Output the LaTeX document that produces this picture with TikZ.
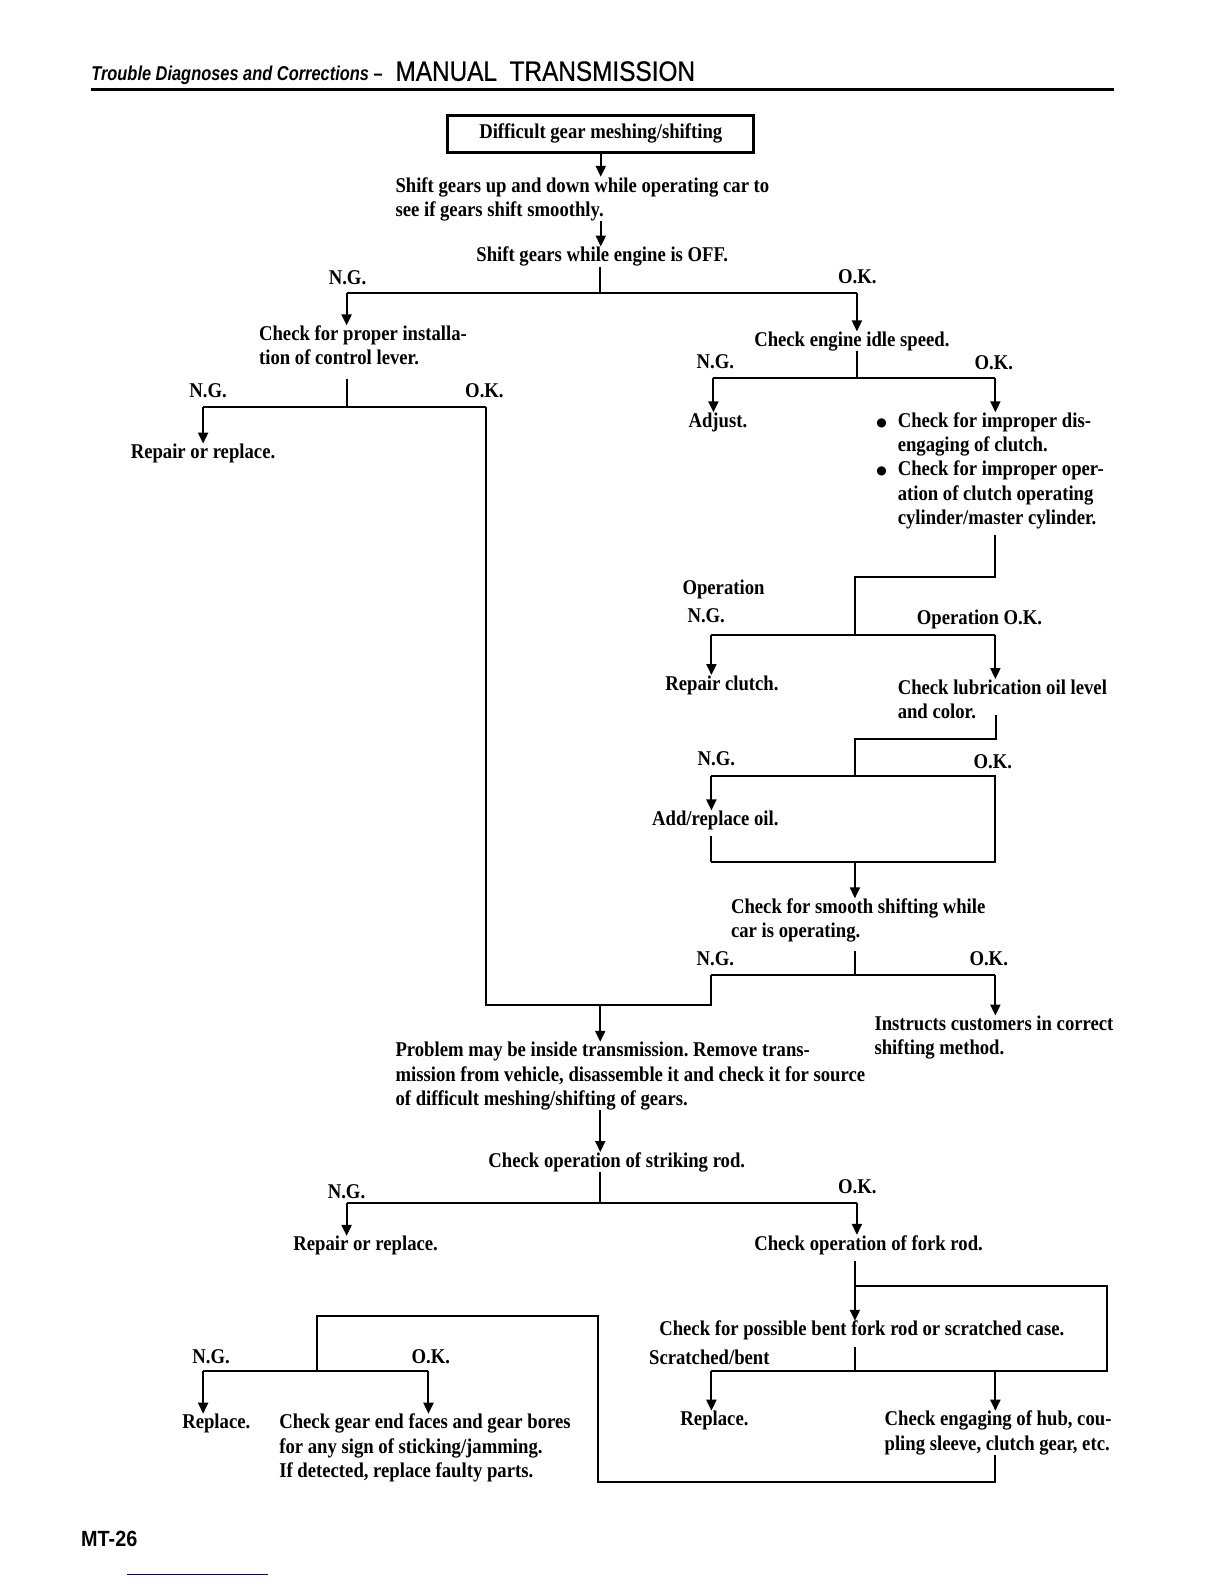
\documentclass[tikz,border=0pt]{standalone}
\usepackage{fontspec}
\setmainfont{Liberation Serif}[FakeStretch=0.89]
\newfontfamily\hdrfont{Liberation Sans}[FakeStretch=0.82]
\newfontfamily\ttlfont{Liberation Sans}[FakeStretch=0.87,FakeBold=0.6]
\newfontfamily\pgfont{Liberation Sans}[FakeStretch=0.9]
\newfontfamily\symfont{DejaVu Sans}
\usetikzlibrary{arrows.meta,positioning,calc}
\frenchspacing

\newcommand{\blt}{\llap{\raisebox{0.6pt}{\symfont\fontsize{6}{6}\selectfont ●}\hspace{5.5pt}}}

\begin{document}
\begin{tikzpicture}[x=0.5053pt,y=-0.5053pt,
  txt/.style={anchor=north west,align=left,inner sep=0pt,font=\fontsize{10.5}{12.1}\selectfont\bfseries},
  lbl/.style={anchor=west,inner sep=0pt,font=\fontsize{10.5}{12.1}\selectfont\bfseries},
  ln/.style={line width=1pt},
  arr/.style={line width=1pt,-{Triangle[width=5pt,length=5.5pt]}}]
  \useasboundingbox (0,0) rectangle (1211.2,1567.5);

  % header
  \node [anchor=base west,inner sep=0pt,font=\hdrfont\fontsize{10}{11}\selectfont\bfseries\itshape] (hdr) at (90,80) {Trouble Diagnoses and Corrections –};
  \node [anchor=base west,inner sep=0pt,font=\ttlfont\fontsize{14}{16}\selectfont] (ttl) at (391,80) {MANUAL\hspace{0.45em}TRANSMISSION};
  \draw [line width=1.5pt] (90,89) -- (1102,89);

  % start
  \node [draw,line width=1.5pt,minimum width=153pt,minimum height=18.7pt,inner sep=0pt,font=\fontsize{10.5}{12.1}\selectfont\bfseries] (start) at (594.5,132.5) {Difficult gear meshing/shifting\hspace{3pt}};
  \node [txt] (shift) at (391,175) {Shift gears up and down while operating car to\\see if gears shift smoothly.};
  \node [txt] (off) at (471,244) {Shift gears while engine is OFF.};
  \draw [arr] (start) -- (start |- shift.north);
  \draw [arr] (shift.south -| start) -- (off.north -| start);

  \coordinate (b1) at (594,290);
  \coordinate (b1l) at (343,290);
  \coordinate (b1r) at (848,290);
  \node [txt] (lever) at (256,322) {Check for proper installa-\\tion of control lever.};
  \node [txt] (idle) at (746,328) {Check engine idle speed.};
  \draw [ln] (off.south -| b1) -- (b1);
  \draw [ln] (b1l) -- (b1r);
  \draw [arr] (b1l) -- (b1l |- lever.north);
  \draw [arr] (b1r) -- (b1r |- idle.north);
  \node [lbl] (ng1) at (325,275) {N.G.};
  \node [lbl] (ok1) at (829,274) {O.K.};

  % control lever
  \coordinate (b2) at (343,403);
  \coordinate (b2l) at (201,403);
  \coordinate (b2r) at (481,403);
  \node [txt] (rep1) at (129,439) {Repair or replace.};
  \draw [ln,shorten <=7pt] (lever.south -| b2) -- (b2);
  \draw [ln] (b2l) -- (b2r);
  \draw [arr] (b2l) -- (b2l |- rep1.north);
  \node [lbl] (ng2) at (187,387) {N.G.};
  \node [lbl] (ok2) at (460,387) {O.K.};

  % idle speed
  \coordinate (b3) at (848,374);
  \coordinate (b3l) at (706,374);
  \coordinate (b3r) at (985,374);
  \node [txt] (adj) at (681,408) {Adjust.};
  \node [txt] (clutch) at (888,408) {\blt Check for improper dis-\\engaging of clutch.\\\blt Check for improper oper-\\ation of clutch operating\\cylinder/master cylinder.};
  \draw [ln] (idle.south -| b3) -- (b3);
  \draw [ln] (b3l) -- (b3r);
  \draw [arr] (b3l) -- (b3l |- adj.north);
  \draw [arr] (b3r) -- (b3r |- clutch.north);
  \node [lbl] (ng3) at (689,358) {N.G.};
  \node [lbl] (ok3) at (964,359) {O.K.};

  % clutch operation
  \coordinate (k1) at (985,571);
  \coordinate (k2) at (846,571);
  \coordinate (b4) at (846,628);
  \coordinate (b4l) at (704,628);
  \coordinate (b4r) at (985,628);
  \node [txt] (rclutch) at (658,668) {Repair clutch.};
  \node [txt] (lube) at (888,672) {Check lubrication oil level\\and color.};
  \draw [ln,shorten <=3pt] (clutch.south -| k1) -- (k1) -- (k2) -- (b4);
  \draw [ln] (b4l) -- (b4r);
  \draw [arr] (b4l) -- (b4l |- rclutch.north);
  \draw [arr] (b4r) -- (b4r |- lube.north);
  \node [txt] (opng) at (675,573) {Operation\\[2pt]\hspace{2.5pt}N.G.};
  \node [lbl] (opok) at (907,613) {Operation O.K.};

  % oil level
  \coordinate (k3) at (986,731);
  \coordinate (k4) at (846,731);
  \coordinate (b5) at (846,768);
  \coordinate (b5l) at (704,768);
  \coordinate (b5r) at (985,768);
  \coordinate (lp1) at (985,853);
  \coordinate (lp2) at (704,853);
  \coordinate (mg2) at (846,853);
  \node [txt] (oil) at (645,802) {Add/replace oil.};
  \node [txt] (smooth) at (723,889) {Check for smooth shifting while\\car is operating.};
  \draw [ln,shorten <=-2pt] (lube.south -| k3) -- (k3) -- (k4) -- (b5);
  \draw [ln] (b5l) -- (b5r) -- (lp1) -- (lp2);
  \draw [ln,shorten >=3pt] (lp2) -- (lp2 |- oil.south);
  \draw [arr] (b5l) -- (b5l |- oil.north);
  \draw [arr] (mg2) -- (mg2 |- smooth.north);
  \node [lbl] (ng4) at (690,751) {N.G.};
  \node [lbl] (ok4) at (963,754) {O.K.};

  % smooth shifting
  \coordinate (b6) at (846,965);
  \coordinate (b6l) at (704,965);
  \coordinate (b6r) at (985,965);
  \coordinate (m1) at (704,995);
  \coordinate (m2) at (481,995);
  \coordinate (mg3) at (594,995);
  \node [txt] (cust) at (865,1005) {Instructs customers in correct\\shifting method.};
  \node [txt] (trans) at (391,1031) {Problem may be inside transmission. Remove trans-\\mission from vehicle, disassemble it and check it for source\\of difficult meshing/shifting of gears.};
  \draw [ln,shorten <=4pt] (smooth.south -| b6) -- (b6);
  \draw [ln] (b6l) -- (b6r);
  \draw [arr] (b6r) -- (b6r |- cust.north);
  \draw [ln] (b6l) -- (m1) -- (m2) -- (b2r);
  \draw [arr] (mg3) -- (mg3 |- trans.north);
  \node [lbl] (ng5) at (689,949) {N.G.};
  \node [lbl] (ok5) at (959,949) {O.K.};

  % striking rod
  \coordinate (b7) at (594,1190);
  \coordinate (b7l) at (343,1190);
  \coordinate (b7r) at (848,1190);
  \node [txt] (rod) at (483,1140) {Check operation of striking rod.};
  \node [txt] (rep2) at (290,1223) {Repair or replace.};
  \node [txt] (fork) at (746,1222) {Check operation of fork rod.};
  \draw [arr] (trans.south -| mg3) -- (mg3 |- rod.north);
  \draw [ln] (rod.south -| b7) -- (b7);
  \draw [ln] (b7l) -- (b7r);
  \draw [arr] (b7l) -- (b7l |- rep2.north);
  \draw [arr] (b7r) -- (b7r |- fork.north);
  \node [lbl] (ng6) at (324,1179) {N.G.};
  \node [lbl] (ok6) at (829,1174) {O.K.};

  % fork rod
  \coordinate (f1) at (846,1273);
  \coordinate (f2) at (1095,1273);
  \coordinate (f3) at (1095,1357);
  \coordinate (b8) at (846,1357);
  \coordinate (b8l) at (704,1357);
  \coordinate (b8r) at (985,1357);
  \node [txt] (bent) at (652,1307) {Check for possible bent fork rod or scratched case.};
  \node [txt] (rep3) at (673,1396) {Replace.};
  \node [txt] (hub) at (875,1396) {Check engaging of hub, cou-\\pling sleeve, clutch gear, etc.};
  \draw [arr,shorten <=3pt] (fork.south -| f1) -- (f1 |- bent.north);
  \draw [ln] (f1) -- (f2) -- (f3) -- (b8l);
  \draw [ln,shorten <=3pt] (bent.south -| b8) -- (b8);
  \draw [arr] (b8l) -- (b8l |- rep3.north);
  \draw [arr] (b8r) -- (b8r |- hub.north);
  \node [lbl] (scr) at (642,1343) {Scratched/bent};

  % gears
  \coordinate (h1) at (985,1467);
  \coordinate (h2) at (592,1467);
  \coordinate (h3) at (592,1302);
  \coordinate (h4) at (314,1302);
  \coordinate (b9) at (314,1357);
  \coordinate (b9l) at (201,1357);
  \coordinate (b9r) at (424,1357);
  \node [txt] (rep4) at (180,1399) {Replace.};
  \node [txt] (gear) at (276,1399) {Check gear end faces and gear bores\\for any sign of sticking/jamming.\\If detected, replace faulty parts.};
  \draw [ln] (hub.south -| h1) -- (h1) -- (h2) -- (h3) -- (h4) -- (b9);
  \draw [ln] (b9l) -- (b9r);
  \draw [arr] (b9l) -- (b9l |- rep4.north);
  \draw [arr] (b9r) -- (b9r |- gear.north);
  \node [lbl] (ng7) at (190,1343) {N.G.};
  \node [lbl] (ok7) at (407,1343) {O.K.};

  % footer
  \node [anchor=west,inner sep=0pt,font=\pgfont\fontsize{11}{12}\selectfont\bfseries] (page) at (80,1523) {MT-26};
  \draw [blue!60!black,line width=0.6pt] (126,1558) -- (265,1558);
\end{tikzpicture}
\end{document}
